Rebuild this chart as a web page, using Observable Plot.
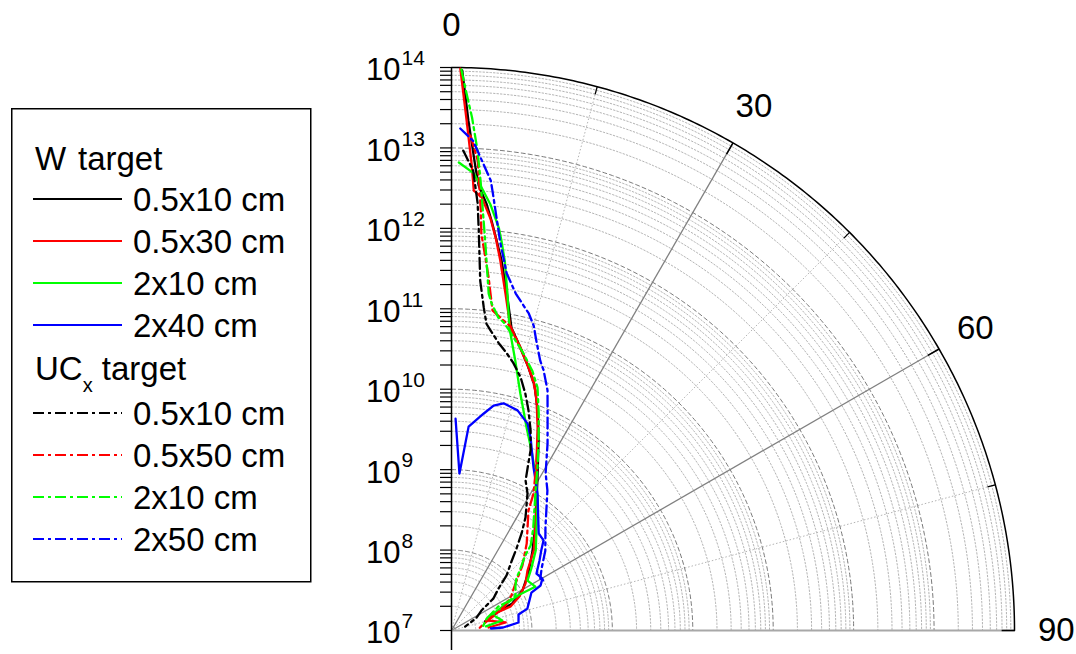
<!DOCTYPE html>
<html><head><meta charset="utf-8">
<script src="https://cdn.jsdelivr.net/npm/d3@7"></script>
<script src="https://cdn.jsdelivr.net/npm/@observablehq/plot@0.6"></script>
<style>
body{margin:0;background:#fff;font-family:"Liberation Sans",Arial,sans-serif;}
#wrap{position:relative;width:1076px;height:654px;overflow:hidden;background:#fff}
#chart{position:absolute;left:0;top:0}
#legend{position:absolute;left:0;top:0}
</style></head><body>
<div id="wrap"><div id="chart"></div><svg id="legend" width="330" height="600"></svg></div>
<script>
// ---- tick / label data ----
const angleLabels = [0, 30, 60, 90];
const majorSpokes = [30, 60];
const minorSpokes = [15, 45, 75];
const decadeExponents = [7, 8, 9, 10, 11, 12, 13, 14];
const minorMultipliers = [2, 3, 4, 5, 6, 7, 8, 9];

// ---- series: [angle (deg), value] ----
const w_05x10 = [[1.1,9.2e13],[1.9,2.2e13],[3.0,5.6e12],[3.5,3.5e12],[4.7,2.1e12],[5.6,1.3e12],[6.6,7.6e11],[7.7,4.4e11],[9.3,1.8e11],[11.2,6.9e10],[13.4,4.4e10],[16.0,2.7e10],[18.7,1.65e10],[21.4,8.7e9],[24.6,4.0e9],[29.8,1.41e9],[37.4,5.3e8],[45.4,2.6e8],[53.0,1.58e8],[60.6,1.03e8],[66.1,6.7e7],[68.9,3.9e7],[74.7,2.7e7]];
const w_05x30 = [[0.9,9.7e13],[1.7,2.2e13],[2.5,6.1e12],[2.9,3.0e12],[4.0,2.5e12],[5.4,1.4e12],[6.4,8.3e11],[7.5,4.4e11],[9.1,1.75e11],[11.0,6.9e10],[13.1,4.6e10],[15.6,2.9e10],[18.2,1.87e10],[20.3,1.12e10],[23.0,5.5e9],[26.6,2.3e9],[35.3,6.7e8],[45.7,2.7e8],[51.7,1.6e8],[57.6,1.23e8],[63.4,8.8e7],[67.9,6.2e7],[68.7,3.5e7],[73.6,2.8e7],[81.6,4.8e7],[85.4,2.9e7]];
const w_2x10 = [[0.9,6.6e12],[2.8,4.9e12],[3.9,3.3e12],[5.2,2.1e12],[6.7,1.1e12],[7.3,7.7e11],[8.2,4.4e11],[9.4,1.8e11],[10.8,6.9e10],[13.3,2.8e10],[16.2,1.17e10],[20.3,4.9e9],[24.0,2.8e9],[28.5,1.56e9],[33.5,8.7e8],[39.5,4.6e8],[46.4,2.8e8],[52.2,1.8e8],[56.7,1.35e8],[62.4,1.5e8],[62.1,9.1e7],[63.9,5.8e7],[68.7,3.5e7],[78.9,4.4e7],[83.3,2.7e7]];
const w_2x40 = [[1.1,4.3e9],[2.9,9.0e8],[4.8,3.5e9],[8.4,5.3e9],[10.6,7.0e9],[12.9,7.9e9],[16.7,7.2e9],[20.2,5.5e9],[22.3,3.9e9],[26.7,1.86e9],[32.1,1.03e9],[41.9,4.2e8],[45.6,4.0e8],[48.4,3.1e8],[51.5,2.5e8],[56.2,1.87e8],[60.3,2.0e8],[63.2,1.74e8],[64.6,1.26e8],[69.0,1.09e8],[73.9,9.6e7],[76.6,7.2e7],[83.2,6.9e7],[86.7,4.4e7],[87.1,3.1e7]];
const uc_05x10 = [[1.4,9.3e12],[2.7,5.3e12],[3.5,2.1e12],[3.9,9.6e11],[4.7,2.3e11],[5.7,1.09e11],[6.5,6.9e10],[7.4,5.8e10],[9.3,4.2e10],[11.2,3.3e10],[13.0,2.6e10],[15.3,1.82e10],[17.3,1.22e10],[19.3,7.9e9],[21.6,4.7e9],[23.7,2.8e9],[24.6,2.0e9],[26.3,1.2e9],[29.0,8.9e8],[33.2,4.8e8],[35.8,3.1e8],[38.4,2.0e8],[41.0,1.37e8],[45.0,9.3e7],[48.2,6.1e7],[52.7,4.5e7],[56.3,2.8e7],[63.4,2.2e7],[74.1,1.5e7]];
const uc_05x50 = [[2.2,1.44e13],[3.2,7.1e12],[4.0,1.7e12],[4.3,8.9e11],[5.2,4.5e11],[6.0,2.6e11],[6.6,1.65e11],[7.3,1.03e11],[9.5,8.1e10],[11.0,7.1e10],[13.7,4.2e10],[16.3,2.6e10],[19.3,1.45e10],[22.8,6.2e9],[25.5,3.0e9],[27.7,1.8e9],[30.9,9.7e8],[32.7,5.9e8],[40.8,2.7e8],[47.5,1.57e8],[53.7,9.7e7],[59.7,7.3e7],[65.2,5.5e7],[70.0,3.8e7],[76.8,2.7e7],[85.8,2.2e7]];
const uc_2x10 = [[1.0,9.5e13],[1.6,4.8e13],[2.3,2.4e13],[3.1,9.5e12],[3.7,4.0e12],[4.2,1.9e12],[5.1,6.0e11],[6.3,1.64e11],[7.0,1.25e11],[8.5,8.6e10],[9.6,7.7e10],[11.2,6.0e10],[14.6,3.6e10],[17.3,2.4e10],[19.5,1.6e10],[21.9,8.1e9],[24.6,4.0e9],[27.8,1.96e9],[31.0,1.07e9],[38.5,4.3e8],[42.9,2.8e8],[44.6,2.0e8],[48.1,1.42e8],[51.3,1.08e8],[55.5,9.2e7],[61.3,8.1e7],[63.0,6.2e7],[62.9,4.5e7],[67.0,3.5e7],[71.1,2.9e7],[86.2,2.4e7]];
const uc_2x50 = [[1.0,1.75e13],[2.5,1.25e13],[2.8,1.09e13],[5.0,4.1e12],[5.4,2.9e12],[7.2,7.1e11],[8.8,3.1e11],[10.8,1.84e11],[13.7,1.14e11],[15.1,8.4e10],[16.3,5.7e10],[18.2,3.4e10],[19.5,2.7e10],[21.8,1.64e10],[24.3,8.0e9],[27.2,4.1e9],[30.9,1.9e9],[34.4,1.29e9],[42.4,5.4e8],[49.6,3.4e8],[55.4,2.3e8],[59.7,1.9e8],[62.7,2.1e8]];

const groupTitles = ["W", "target", "UC"];
const seriesLabels = ["0.5x10 cm","0.5x30 cm","2x10 cm","2x40 cm","0.5x10 cm","0.5x50 cm","2x10 cm","2x50 cm"];
const seriesColors = ["#000000","#ff0000","#00ff00","#0000ff","#000000","#ff0000","#00ff00","#0000ff"];
const seriesDashed = [false,false,false,false,true,true,true,true];
const seriesData = [w_05x10, w_05x30, w_2x10, w_2x40, uc_05x10, uc_05x50, uc_2x10, uc_2x50];

const DASHDOT = "11,4,3,4";
const FONT = "'Liberation Sans', Arial, sans-serif";
const W = 1076, H = 654, ML = 451, MR = 62, MT = 67, MB = 24;
const pxPerDecade = (W - ML - MR) / 7;

// radial log scale (value -> decades from center)
const rs = Plot.scale({x: {type: "log", domain: [1e7, 1e14], range: [0, 7]}});
const toXY = (a, v) => { const r = rs.apply(v), t = a * Math.PI / 180; return {x: r * Math.sin(t), y: r * Math.cos(t)}; };
const arcSteps = d3.range(0, 90.001, 0.5);
const arc = v => arcSteps.map(a => ({v, ...toXY(a, v)}));

const minorVals = decadeExponents.slice(0, -1).flatMap(e => minorMultipliers.map(k => k * 10 ** e));
const decadeVals = decadeExponents.slice(1, -1).map(e => 10 ** e);
const outerVal = 10 ** decadeExponents[decadeExponents.length - 1];
const allTickVals = [...decadeExponents.map(e => 10 ** e), ...minorVals];

const spoke = (a, v0, v1) => ({a, x1: v0 == null ? 0 : toXY(a, v0).x, y1: v0 == null ? 0 : toXY(a, v0).y, x2: toXY(a, v1).x, y2: toXY(a, v1).y});

const seriesMarks = seriesData.map((d, i) => Plot.line(d.map(([a, v]) => toXY(a, v)), {
  x: "x", y: "y", stroke: seriesColors[i], strokeWidth: 2.3,
  strokeDasharray: seriesDashed[i] ? DASHDOT : null
}));

const chart = Plot.plot({
  width: W, height: H,
  marginLeft: ML, marginRight: MR, marginTop: MT, marginBottom: MB,
  x: {type: "linear", domain: [0, 7], axis: null},
  y: {type: "linear", domain: [0, 7], axis: null},
  style: {fontFamily: FONT, background: "transparent", overflow: "visible"},
  marks: [
    Plot.line(minorVals.flatMap(arc), {x: "x", y: "y", z: "v", stroke: "#b4b4b4", strokeWidth: 1, strokeDasharray: "1.5,2"}),
    Plot.link(minorSpokes.map(a => spoke(a, null, outerVal)), {x1: "x1", y1: "y1", x2: "x2", y2: "y2", stroke: "#b4b4b4", strokeWidth: 1, strokeDasharray: "1.5,2"}),
    Plot.line(decadeVals.flatMap(arc), {x: "x", y: "y", z: "v", stroke: "#7a7a7a", strokeWidth: 1, strokeDasharray: "4,3"}),
    Plot.link(majorSpokes.map(a => spoke(a, null, outerVal)), {x1: "x1", y1: "y1", x2: "x2", y2: "y2", stroke: "#808080", strokeWidth: 1.3}),
    Plot.link([spoke(90, null, outerVal)], {x1: "x1", y1: "y1", x2: "x2", y2: "y2", stroke: "#a8a8a8", strokeWidth: 2.2}),
    Plot.line(arc(outerVal), {x: "x", y: "y", stroke: "black", strokeWidth: 1.5}),
    Plot.link([...majorSpokes, 90].map(a => spoke(a, 10 ** 13.84, outerVal)), {x1: "x1", y1: "y1", x2: "x2", y2: "y2", stroke: "black", strokeWidth: 1.5}),
    Plot.link(minorSpokes.map(a => spoke(a, 10 ** 13.9, outerVal)), {x1: "x1", y1: "y1", x2: "x2", y2: "y2", stroke: "black", strokeWidth: 1.3}),
    Plot.ruleX([0], {y1: -0.25, y2: 7, stroke: "black", strokeWidth: 1.5}),
    Plot.ruleY(allTickVals, {y: v => rs.apply(v), x1: -11 / pxPerDecade, x2: 0, stroke: "black", strokeWidth: 1.2}),
    Plot.text(decadeExponents, {x: 0, y: e => rs.apply(10 ** e), text: () => "10", textAnchor: "end", dx: -51, dy: 3, fontSize: 31, fill: "black"}),
    Plot.text(decadeExponents, {x: 0, y: e => rs.apply(10 ** e), text: e => String(e), textAnchor: "start", dx: -50, dy: -9, fontSize: 21, fill: "black"}),
    Plot.text(angleLabels, {x: a => toXY(a, 10 ** 14.52).x, y: a => toXY(a, 10 ** 14.52).y, text: a => String(a), textAnchor: "middle", fontSize: 33, fill: "black"}),
    ...seriesMarks
  ]
});
document.getElementById("chart").appendChild(chart);

// ---- legend ----
const lg = d3.select("#legend").style("font-family", FONT);
lg.append("rect").attr("x", 11.75).attr("y", 108.75).attr("width", 299).attr("height", 473)
  .attr("fill", "white").attr("stroke", "black").attr("stroke-width", 1.5);
lg.append("text").attr("x", 35).attr("y", 170).attr("font-size", 33).text(groupTitles[0]);
lg.append("text").attr("x", 78).attr("y", 170).attr("font-size", 33).text(groupTitles[1]);
const uc = lg.append("text").attr("x", 35).attr("y", 380).attr("font-size", 33);
uc.append("tspan").text(groupTitles[2]);
uc.append("tspan").attr("font-size", 20).attr("dy", 12).text("x");
uc.append("tspan").attr("dy", -12).text(" " + groupTitles[1]);
seriesLabels.forEach((lab, i) => {
  const y = (i < 4 ? 199 : 413) + 42 * (i % 4);
  lg.append("line").attr("x1", 33).attr("x2", 122).attr("y1", y).attr("y2", y)
    .attr("stroke", seriesColors[i]).attr("stroke-width", 2)
    .attr("stroke-dasharray", seriesDashed[i] ? DASHDOT : null);
  lg.append("text").attr("x", 133).attr("y", y + 12).attr("font-size", 33).text(lab);
});
</script></body></html>
